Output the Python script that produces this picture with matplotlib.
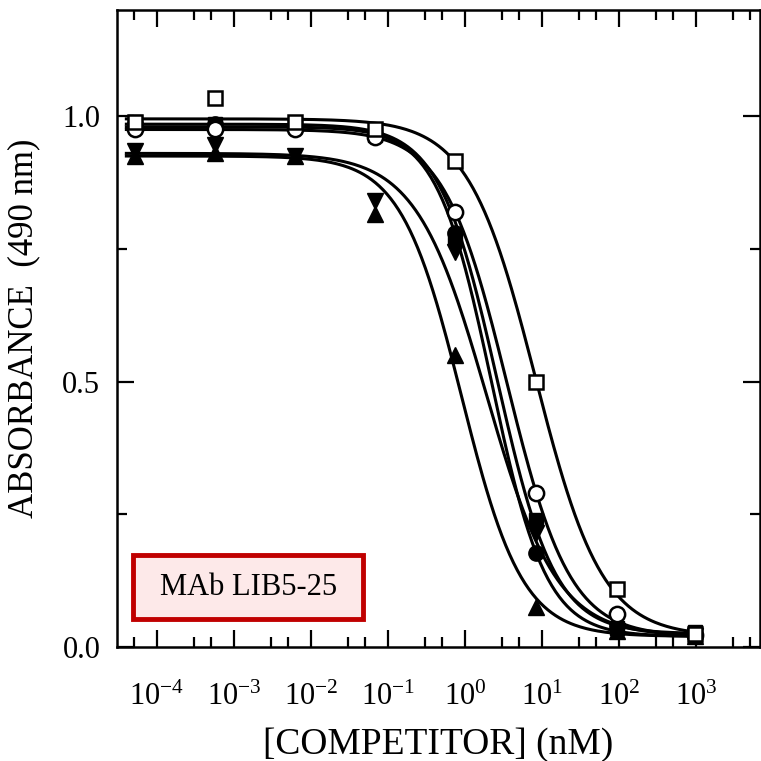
import numpy as np
import matplotlib.pyplot as plt
from matplotlib.ticker import FixedLocator, FuncFormatter, NullFormatter
from matplotlib.patches import Rectangle

plt.rcParams['font.family'] = ['Liberation Serif', 'DejaVu Serif']
plt.rcParams['mathtext.default'] = 'regular'

# competitor concentrations (nM)
conc = [5.2e-5, 5.7e-4, 6.2e-3, 0.068, 0.74, 8.4, 94, 970]

# absorbance readings per competitor
open_sq = [0.99, 1.035, 0.99, 0.975, 0.915, 0.50, 0.11, 0.025]
open_circ = [0.975, 0.975, 0.975, 0.96, 0.82, 0.29, 0.062, 0.022]
fill_circ = [0.985, 0.985, 0.98, 0.965, 0.78, 0.178, 0.04, 0.02]
fill_sq = [0.99, 0.985, 0.985, 0.965, 0.77, 0.24, 0.035, 0.028]
fill_down = [0.935, 0.945, 0.925, 0.84, 0.745, 0.215, 0.03, 0.02]
fill_up = [0.925, 0.93, 0.925, 0.815, 0.55, 0.075, 0.03, 0.02]

# fitted logistic curves: top, bottom, IC50 (nM), hill slope
fit_top = [0.995, 0.975, 0.98, 0.985, 0.93, 0.925]
fit_bottom = [0.02, 0.02, 0.02, 0.025, 0.02, 0.02]
fit_ic50 = [8.2, 3.5, 2.2, 2.6, 1.9, 0.9]
fit_hill = [1.0, 1.06, 1.22, 1.15, 0.95, 1.1]

xticks = [1e-4, 1e-3, 1e-2, 1e-1, 1e0, 1e1, 1e2, 1e3]

fig = plt.figure(figsize=(7.61, 7.61), dpi=100)
ax = fig.add_axes([0.1537, 0.1498, 0.845, 0.837])

xs = np.logspace(np.log10(4e-5), np.log10(1.1e3), 300)
for top, bot, ic, h in zip(fit_top, fit_bottom, fit_ic50, fit_hill):
    ax.plot(xs, bot + (top - bot) / (1 + (xs / ic) ** h), color='black', lw=2.2, zorder=2)

ms = 11
ax.plot(conc, fill_sq, 's', color='black', ms=ms - 1, zorder=3)
ax.plot(conc, fill_circ, 'o', color='black', ms=ms, zorder=3)
ax.plot(conc, fill_down, 'v', color='black', ms=ms + 1, zorder=3)
ax.plot(conc, fill_up, '^', color='black', ms=ms + 1, zorder=3)
ax.plot(conc, open_circ, 'o', mfc='white', mec='black', mew=1.8, ms=ms, zorder=4)
ax.plot(conc, open_sq, 's', mfc='white', mec='black', mew=1.8, ms=ms - 1, zorder=4)

ax.set_xscale('log')
ax.set_xlim(10 ** -4.52, 10 ** 3.83)
ax.set_ylim(0, 1.2)

ax.xaxis.set_major_locator(FixedLocator(xticks))
minors = [m * 10.0 ** n for n in range(-5, 4) for m in (3, 5)]
ax.xaxis.set_minor_locator(FixedLocator(minors))
ax.xaxis.set_minor_formatter(NullFormatter())
ax.xaxis.set_major_formatter(FuncFormatter(lambda v, p: '$10^{%d}$' % round(np.log10(v))))

ax.set_yticks([0, 0.5, 1.0])
ax.set_yticklabels(['0.0', '0.5', '1.0'])
ax.set_yticks([0.25, 0.75], minor=True)

ax.tick_params(which='both', direction='in', top=True, right=True, width=1.6)
ax.tick_params(which='major', length=12)
ax.tick_params(which='minor', length=7)
ax.tick_params(axis='x', which='major', labelsize=22, pad=26)
ax.tick_params(axis='y', which='major', labelsize=22, pad=12)
for s in ax.spines.values():
    s.set_linewidth(1.8)

ax.set_xlabel('[COMPETITOR] (nM)', fontsize=27)
ax.xaxis.set_label_coords(0.5, -0.126)
ax.set_ylabel('ABSORBANCE  (490 nm)', fontsize=25, labelpad=16)

# label box
ax.add_patch(Rectangle((0.025, 0.044), 0.358, 0.1, transform=ax.transAxes,
                       facecolor='#fde9e9', edgecolor='#c00000', lw=3.5, zorder=5))
ax.text(0.204, 0.094, 'MAb LIB5-25', transform=ax.transAxes, fontsize=22,
        ha='center', va='center', zorder=6)

plt.savefig('out.png', dpi=100)
plt.close()
